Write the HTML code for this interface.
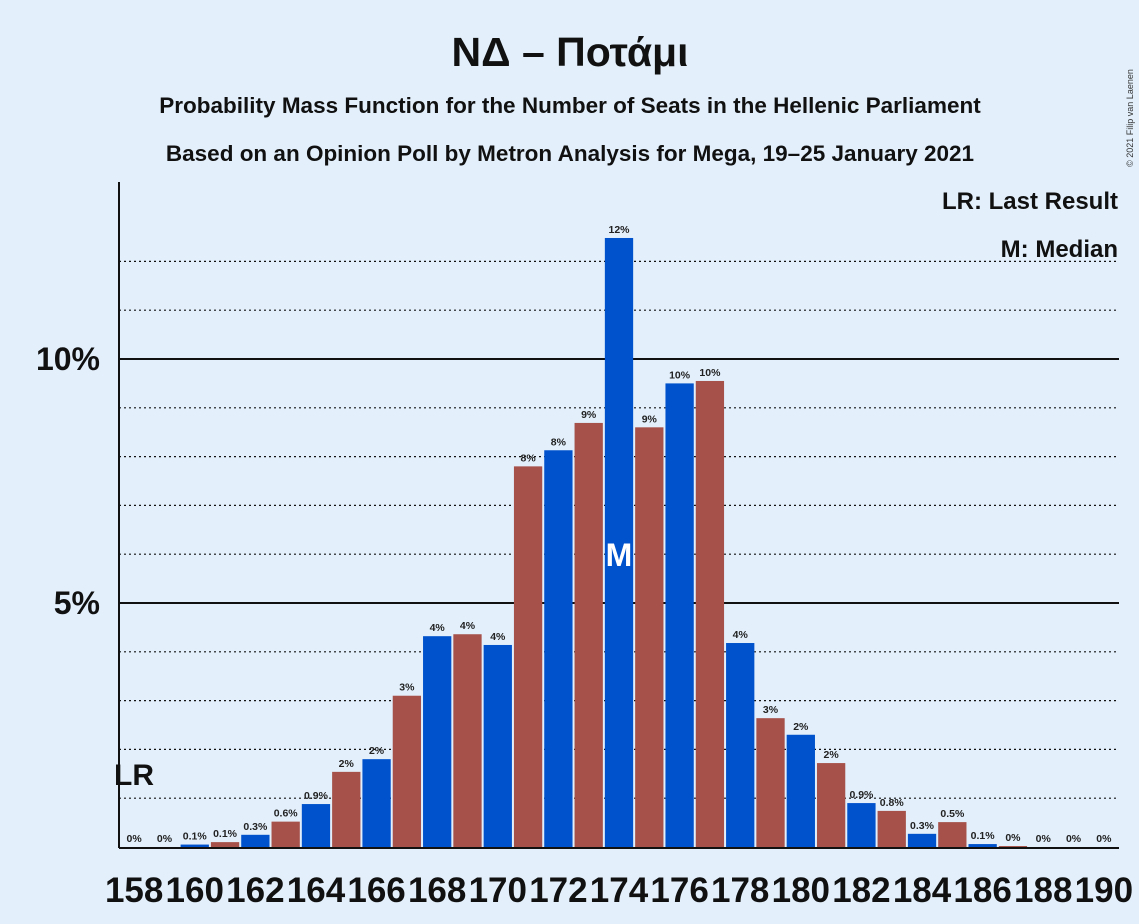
<!DOCTYPE html>
<html><head><meta charset="utf-8">
<style>
body{margin:0;background:#E3F0FC;}
svg{display:block;font-family:"Liberation Sans","DejaVu Sans",sans-serif;}
</style></head><body>
<svg id="c" width="1139" height="924" viewBox="0 0 1139 924" xmlns="http://www.w3.org/2000/svg">
<rect width="1139" height="924" fill="#E3F0FC"/>
<text x="570" y="66" text-anchor="middle" font-size="41" font-weight="bold" fill="#111">ΝΔ – Ποτάμι</text>
<text x="570" y="113" text-anchor="middle" font-size="22.5" font-weight="bold" fill="#111">Probability Mass Function for the Number of Seats in the Hellenic Parliament</text>
<text x="570" y="161" text-anchor="middle" font-size="22.5" font-weight="bold" fill="#111">Based on an Opinion Poll by Metron Analysis for Mega, 19–25 January 2021</text>
<text x="1133" y="118" font-size="9" fill="#333" transform="rotate(-90 1133 118)" text-anchor="middle">© 2021 Filip van Laenen</text>
<g id="grid"></g><g id="bars"></g><g id="labels"></g>
<line x1="119" y1="182" x2="119" y2="848" stroke="#111" stroke-width="2"/>
<line x1="119" y1="848" x2="1119" y2="848" stroke="#111" stroke-width="2"/>
<text x="1118" y="209" text-anchor="end" font-size="24" font-weight="bold" fill="#111">LR: Last Result</text>
<text x="1118" y="257" text-anchor="end" font-size="24" font-weight="bold" fill="#111">M: Median</text>
</svg>
<script>
const seats=[158,159,160,161,162,163,164,165,166,167,168,169,170,171,172,173,174,175,176,177,178,179,180,181,182,183,184,185,186,187,188,189,190];
const probs=[0,0,0.05,0.1,0.25,0.52,0.88,1.54,1.8,3.1,4.32,4.36,4.14,7.8,8.13,8.69,12.48,8.6,9.5,9.55,4.18,2.64,2.3,1.72,0.9,0.74,0.27,0.51,0.06,0.02,0,0,0];
const valueLabels=["0%","0%","0.1%","0.1%","0.3%","0.6%","0.9%","2%","2%","3%","4%","4%","4%","8%","8%","9%","12%","9%","10%","10%","4%","3%","2%","2%","0.9%","0.8%","0.3%","0.5%","0.1%","0%","0%","0%","0%"];
const yTicks=[5,10];
const lastResult=158, median=174;
const NS="http://www.w3.org/2000/svg";
const x0=119,x1=1119,yBase=847,pxPer=48.8;
const slot=(x1-x0)/seats.length;
const X=i=>x0+slot*i;
const Y=v=>yBase-v*pxPer;
function mk(t,a,p){const e=document.createElementNS(NS,t);for(const k in a)e.setAttribute(k,a[k]);p.appendChild(e);return e;}
const grid=document.getElementById('grid'),bars=document.getElementById('bars'),labels=document.getElementById('labels');
for(let v=1;v<=12;v++){
  const major=yTicks.includes(v);
  const l=mk('line',{x1:x0,x2:x1,y1:Y(v),y2:Y(v),stroke:'#111','stroke-width':major?2:1.2,'stroke-dasharray':major?'none':'2,3'},grid);
  
  
}
yTicks.forEach(v=>{
  const t=mk('text',{x:100,y:Y(v)+11,'text-anchor':'end','font-size':32,'font-weight':'bold',fill:'#111'},labels);
  t.textContent=v+'%';
  
  
});
seats.forEach((s,i)=>{
  const v=probs[i],h=v*pxPer;
  const r=mk('rect',{x:X(i)+1,y:yBase-h,width:slot-2,height:h,fill:i%2==0?'#0052CC':'#A6524A'},bars);
  
  
  const t=mk('text',{x:X(i)+slot/2,y:Y(v)-5,'text-anchor':'middle','font-size':10.5,'font-weight':'bold',fill:'#222'},labels);
  t.textContent=valueLabels[i];
  
  
  if(s%2==0){
    const xt=mk('text',{x:X(i)+slot/2,y:902,'text-anchor':'middle','font-size':35,'font-weight':'bold',fill:'#111'},labels);
    xt.textContent=s;
    
    
  }
  if(s===median){
    const m=mk('text',{x:X(i)+slot/2,y:Y(6)+12,'text-anchor':'middle','font-size':32,'font-weight':'bold',fill:'#fff'},labels);
    m.textContent='M';
    
    
  }
  if(s===lastResult){
    const m=mk('text',{x:X(i)-5,y:785,'font-size':30,'font-weight':'bold',fill:'#111'},labels);
    m.textContent='LR';
    
    
  }
});
</script>
</body></html>
